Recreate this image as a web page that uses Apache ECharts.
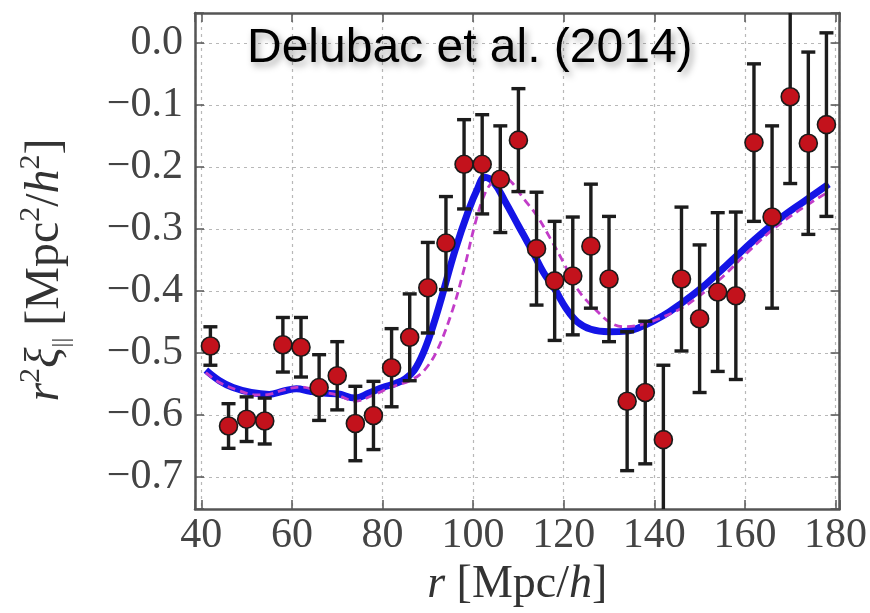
<!DOCTYPE html>
<html>
<head>
<meta charset="utf-8">
<script src="https://cdn.jsdelivr.net/npm/echarts/dist/echarts.min.js"></script>
<style>html,body{margin:0;padding:0;background:#fff;}#c{width:870px;height:613px;}</style>
</head>
<body>
<div id="c"></div>
<script>
// measured data points (r in Mpc/h, r^2 xi_par, 1-sigma error)
const rVals  = [42,46,50,54,58,62,66,70,74,78,82,86,90,94,98,102,106,110,114,118,122,126,130,134,138,142,146,150,154,158,162,166,170,174,178];
const xiVals = [-0.489,-0.618,-0.607,-0.610,-0.487,-0.491,-0.556,-0.537,-0.614,-0.601,-0.524,-0.475,-0.395,-0.323,-0.196,-0.196,-0.220,-0.157,-0.332,-0.384,-0.376,-0.328,-0.381,-0.578,-0.564,-0.640,-0.381,-0.445,-0.402,-0.408,-0.161,-0.281,-0.087,-0.162,-0.132];
const errVals = [0.031,0.036,0.036,0.037,0.044,0.048,0.053,0.055,0.060,0.055,0.063,0.070,0.073,0.075,0.072,0.080,0.086,0.083,0.091,0.096,0.095,0.100,0.101,0.112,0.115,0.120,0.116,0.119,0.128,0.135,0.127,0.147,0.140,0.147,0.148];

// best-fit model (solid blue)
const fitR  = [41,44,47,51,55,58,61,64,67,70,74,77,80,83,85,87,89,91,93,96,99,101,102.5,104.5,107,110,113,115.5,118,120.5,123,126,130,134,138,142,146,150,154,158,163,168,173,178.5];
const fitXi = [-0.528,-0.545,-0.556,-0.564,-0.567,-0.562,-0.558,-0.562,-0.565,-0.566,-0.573,-0.565,-0.556,-0.549,-0.542,-0.528,-0.500,-0.460,-0.412,-0.335,-0.270,-0.235,-0.217,-0.225,-0.255,-0.295,-0.335,-0.370,-0.397,-0.428,-0.450,-0.462,-0.466,-0.465,-0.455,-0.440,-0.420,-0.398,-0.372,-0.345,-0.312,-0.282,-0.256,-0.228];

// alternative model (dashed magenta)
const altR  = [41,44,48,52,55,58,62,66,70,74,78,82,86,89,92,95.5,98,100.5,102.5,104.5,106.5,108.5,111,114,117,120,122,124,127,130,133,137,141,146,150,155,160,166,172,178.5];
const altXi = [-0.532,-0.548,-0.560,-0.568,-0.567,-0.560,-0.555,-0.562,-0.568,-0.578,-0.568,-0.555,-0.545,-0.530,-0.497,-0.430,-0.365,-0.290,-0.245,-0.222,-0.215,-0.225,-0.250,-0.278,-0.315,-0.355,-0.385,-0.407,-0.430,-0.450,-0.458,-0.455,-0.445,-0.428,-0.408,-0.378,-0.342,-0.302,-0.270,-0.240];

const xTicks = [40,60,80,100,120,140,160,180];
const yTicks = [0.0,-0.1,-0.2,-0.3,-0.4,-0.5,-0.6,-0.7];

const SERIF = "'Liberation Serif','Times New Roman',serif";
const isTick = (arr, v) => arr.some(t => Math.abs(t - v) < 1e-6);

const chart = echarts.init(document.getElementById('c'), null, {renderer: 'canvas'});

const frame = {show: true, onZero: false, lineStyle: {color: '#555', width: 2.5}};
const grid = {show: true, lineStyle: {color: '#b8b8b8', width: 1.2, type: [3, 4]}};
const tick = {show: true, inside: true, length: 9, lineStyle: {color: '#555', width: 1.5}};

const option = {
  backgroundColor: '#fff',
  animation: false,
  title: {
    text: 'Delubac et al. (2014)',
    left: 247, top: 25, padding: 0,
    textStyle: {
      fontFamily: "'Liberation Sans',Arial,sans-serif", fontSize: 48, fontWeight: 'normal', color: '#000',
      textShadowColor: 'rgba(0,0,0,0.35)', textShadowBlur: 7, textShadowOffsetX: 3, textShadowOffsetY: 4
    }
  },
  grid: {left: 195, right: 29, top: 13, bottom: 100, containLabel: false},
  xAxis: [{
    type: 'value', position: 'bottom', min: 38.6, max: 180.9, minInterval: 20, maxInterval: 20,
    axisLine: frame, axisTick: tick, splitLine: grid,
    axisLabel: {
      margin: 6, fontFamily: SERIF, fontSize: 42, color: '#444',
      formatter: v => isTick(xTicks, v) ? String(Math.round(v)) : ''
    },
    name: '{i|r}{n| [Mpc/}{i|h}{n|]}', nameLocation: 'middle', nameGap: 48,
    nameTextStyle: {
      color: '#333', fontFamily: SERIF, fontSize: 46,
      rich: {
        i: {fontFamily: SERIF, fontSize: 46, fontStyle: 'italic', color: '#333'},
        n: {fontFamily: SERIF, fontSize: 46, color: '#333'}
      }
    }
  }, {
    type: 'value', position: 'top', min: 38.6, max: 180.9, minInterval: 20, maxInterval: 20,
    axisLine: frame, axisTick: tick, splitLine: {show: false}, axisLabel: {show: false}
  }],
  yAxis: [{
    type: 'value', position: 'left', min: -0.752, max: 0.048, minInterval: 0.1, maxInterval: 0.1,
    axisLine: frame, axisTick: tick, splitLine: grid,
    axisLabel: {
      margin: 12, fontFamily: SERIF, fontSize: 42, color: '#444',
      formatter: v => isTick(yTicks, v) ? ((v < -1e-9 ? '\u2212' : '') + Math.abs(v).toFixed(1)) : ''
    },
    name: '{i|r}{sup|2}{i|\u03be}{sub|||}{n| [Mpc}{sup|2}{n|/}{i|h}{sup|2}{n|]}',
    nameLocation: 'middle', nameRotate: 90, nameGap: 121,
    nameTextStyle: {
      color: '#333', fontFamily: SERIF, fontSize: 48, padding: [0, 18, 0, 0],
      rich: {
        i: {fontFamily: SERIF, fontSize: 48, fontStyle: 'italic', color: '#333', lineHeight: 58},
        n: {fontFamily: SERIF, fontSize: 48, color: '#333', lineHeight: 58},
        sup: {fontFamily: SERIF, fontSize: 30, color: '#333', lineHeight: 28, verticalAlign: 'top'},
        sub: {fontFamily: SERIF, fontSize: 24, color: '#333', lineHeight: 24, verticalAlign: 'bottom'}
      }
    }
  }, {
    type: 'value', position: 'right', min: -0.752, max: 0.048, minInterval: 0.1, maxInterval: 0.1,
    axisLine: frame, axisTick: tick, splitLine: {show: false}, axisLabel: {show: false}
  }],
  series: [
    {
      name: 'fit', type: 'line', xAxisIndex: 0, yAxisIndex: 0, z: 2,
      data: fitR.map((r, i) => [r, fitXi[i]]),
      showSymbol: false, smooth: 0.4,
      lineStyle: {color: '#1414e6', width: 7}
    },
    {
      name: 'alt', type: 'line', xAxisIndex: 0, yAxisIndex: 0, z: 3,
      data: altR.map((r, i) => [r, altXi[i]]),
      showSymbol: false, smooth: 0.35,
      lineStyle: {color: '#c23cc8', width: 2.8, type: [8, 5]}
    },
    {
      name: 'err', type: 'custom', xAxisIndex: 0, yAxisIndex: 0, z: 4, clip: true,
      data: rVals.map((r, i) => [r, xiVals[i], errVals[i]]),
      renderItem: function (params, api) {
        const x = api.value(0), y = api.value(1), e = api.value(2);
        const t = api.coord([x, y + e]);
        const b = api.coord([x, y - e]);
        const st = {stroke: '#1c1c1c', lineWidth: 3.4};
        const cw = 7;
        return {
          type: 'group',
          children: [
            {type: 'line', shape: {x1: t[0], y1: t[1], x2: b[0], y2: b[1]}, style: st},
            {type: 'line', shape: {x1: t[0] - cw, y1: t[1], x2: t[0] + cw, y2: t[1]}, style: st},
            {type: 'line', shape: {x1: b[0] - cw, y1: b[1], x2: b[0] + cw, y2: b[1]}, style: st}
          ]
        };
      }
    },
    {
      name: 'data', type: 'scatter', xAxisIndex: 0, yAxisIndex: 0, z: 5,
      data: rVals.map((r, i) => [r, xiVals[i]]),
      symbol: 'circle', symbolSize: 18,
      itemStyle: {color: '#c3121c', borderColor: '#1a1a1a', borderWidth: 1.6, opacity: 1}
    }
  ]
};
chart.setOption(option);
</script>
</body>
</html>
